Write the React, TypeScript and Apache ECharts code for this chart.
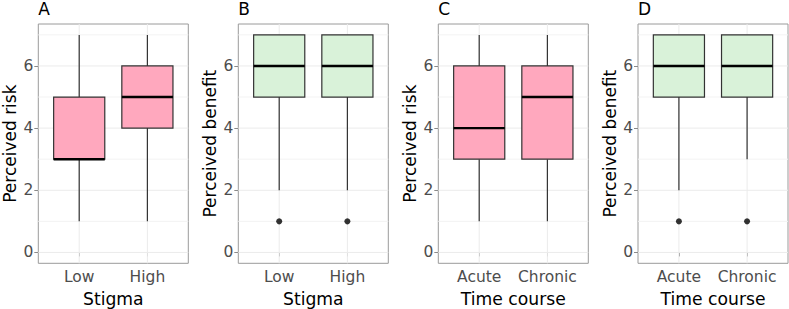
import React, { useEffect, useRef } from "react";
import * as echarts from "echarts";

const stigmaCategories = ["Low", "High"];
const timeCategories = ["Acute", "Chronic"];

// [min, Q1, median, Q3, max]
const riskByStigma = [
  [1, 3, 3, 5, 7],
  [1, 4, 5, 6, 7],
];
const benefitByStigma = [
  [2, 5, 6, 7, 7],
  [2, 5, 6, 7, 7],
];
const riskByTime = [
  [1, 3, 4, 6, 7],
  [1, 3, 5, 6, 7],
];
const benefitByTime = [
  [2, 5, 6, 7, 7],
  [3, 5, 6, 7, 7],
];
// outliers: [category position, value]
const benefitByStigmaOutliers = [
  [1, 1],
  [2, 1],
];
const benefitByTimeOutliers = [
  [1, 1],
  [2, 1],
];

const yTicks = [0, 2, 4, 6];
const yMinor = [1, 3, 5, 7];

const panelLetters = ["A", "B", "C", "D"];
const yTitles = ["Perceived risk", "Perceived benefit", "Perceived risk", "Perceived benefit"];
const xTitles = ["Stigma", "Stigma", "Time course", "Time course"];

const PINK = "#FFA8BE";
const GREEN = "#D9F2D9";
const FONT = "'DejaVu Sans', 'Liberation Sans', Arial, sans-serif";

const X_MIN = 0.4;
const X_MAX = 2.6;
const Y_MIN = -0.35;
const Y_MAX = 7.35;

export default function App() {
  const ref = useRef<HTMLDivElement>(null);

  useEffect(() => {
    document.body.style.margin = "0";
    if (!ref.current) return;
    const chart = echarts.init(ref.current, null, { renderer: "svg" });

    const panels = [
      { cats: stigmaCategories, stats: riskByStigma, out: [] as number[][], fill: PINK },
      { cats: stigmaCategories, stats: benefitByStigma, out: benefitByStigmaOutliers, fill: GREEN },
      { cats: timeCategories, stats: riskByTime, out: [] as number[][], fill: PINK },
      { cats: timeCategories, stats: benefitByTime, out: benefitByTimeOutliers, fill: GREEN },
    ];
    const lefts = [38.3, 238.3, 438.3, 638];
    const top = 24;
    const plotH = 239.3;
    const plotW = 150;

    const grid: any[] = [];
    const xAxis: any[] = [];
    const yAxis: any[] = [];
    const series: any[] = [];
    const graphic: any[] = [];

    panels.forEach((p, i) => {
      grid.push({
        left: lefts[i],
        top,
        width: plotW,
        height: plotH,
        show: true,
        containLabel: false,
        outerBoundsMode: "none",
        borderColor: "#9a9a9a",
        borderWidth: 1,
        backgroundColor: "transparent",
      });
      const positions = p.cats.map((_, k) => k + 1);
      xAxis.push({
        type: "value",
        gridIndex: i,
        min: X_MIN,
        max: X_MAX,
        axisLine: { show: false },
        splitLine: { show: false },
        axisTick: {
          show: true,
          customValues: positions,
          length: 4,
          lineStyle: { color: "#8a8a8a", width: 1 },
        },
        axisLabel: {
          show: true,
          customValues: positions,
          formatter: (v: number) => p.cats[Math.round(v) - 1] ?? "",
          margin: 6,
          fontSize: 15.5,
          color: "#4D4D4D",
          fontFamily: FONT,
        },
        name: xTitles[i],
        nameLocation: "middle",
        nameGap: 26,
        nameTextStyle: { fontSize: 17.2, color: "#000", fontFamily: FONT },
      });
      yAxis.push({
        type: "value",
        gridIndex: i,
        min: Y_MIN,
        max: Y_MAX,
        axisLine: { show: false },
        splitLine: { show: false },
        axisTick: {
          show: true,
          customValues: yTicks,
          length: 4,
          lineStyle: { color: "#8a8a8a", width: 1 },
        },
        axisLabel: {
          show: true,
          customValues: yTicks,
          margin: 5,
          fontSize: 15.5,
          color: "#4D4D4D",
          fontFamily: FONT,
        },
        name: yTitles[i],
        nameLocation: "middle",
        nameGap: 20.5,
        nameTextStyle: { fontSize: 17, lineHeight: 16, color: "#000", fontFamily: FONT },
      });

      // grid lines: [orientation (0 = horizontal, 1 = vertical), value, isMajor]
      const gridData: number[][] = [
        ...yMinor.map((v) => [0, v, 0]),
        ...yTicks.map((v) => [0, v, 1]),
        ...positions.map((v) => [1, v, 1]),
      ];
      series.push({
        type: "custom",
        xAxisIndex: i,
        yAxisIndex: i,
        z: 1,
        silent: true,
        data: gridData,
        renderItem: (_params: any, api: any) => {
          const orient = api.value(0);
          const v = api.value(1);
          const major = api.value(2) === 1;
          let a, b;
          if (orient === 0) {
            a = api.coord([X_MIN, v]);
            b = api.coord([X_MAX, v]);
          } else {
            a = api.coord([v, Y_MIN]);
            b = api.coord([v, Y_MAX]);
          }
          return {
            type: "line",
            shape: { x1: a[0], y1: a[1], x2: b[0], y2: b[1] },
            style: { stroke: major ? "#EBEBEB" : "#F3F3F3", lineWidth: 1 },
          };
        },
      });

      // boxes
      series.push({
        type: "custom",
        xAxisIndex: i,
        yAxisIndex: i,
        z: 2,
        data: p.stats.map((s, k) => [k + 1, ...s]),
        encode: { x: 0, y: [1, 2, 3, 4, 5] },
        renderItem: (_params: any, api: any) => {
          const x = api.value(0);
          const pMin = api.coord([x, api.value(1)]);
          const pQ1 = api.coord([x, api.value(2)]);
          const pMed = api.coord([x, api.value(3)]);
          const pQ3 = api.coord([x, api.value(4)]);
          const pMax = api.coord([x, api.value(5)]);
          const w = api.size([0.75, 0])[0];
          const cx = pMed[0];
          const line = { stroke: "#333333", lineWidth: 1.2 };
          return {
            type: "group",
            children: [
              { type: "line", shape: { x1: cx, y1: pMin[1], x2: cx, y2: pQ1[1] }, style: line },
              { type: "line", shape: { x1: cx, y1: pQ3[1], x2: cx, y2: pMax[1] }, style: line },
              {
                type: "rect",
                shape: { x: cx - w / 2, y: pQ3[1], width: w, height: pQ1[1] - pQ3[1] },
                style: { fill: p.fill, stroke: "#333333", lineWidth: 1.2 },
              },
              {
                type: "line",
                shape: { x1: cx - w / 2, y1: pMed[1], x2: cx + w / 2, y2: pMed[1] },
                style: { stroke: "#000", lineWidth: 2.4 },
              },
            ],
          };
        },
      });

      if (p.out.length) {
        series.push({
          type: "scatter",
          xAxisIndex: i,
          yAxisIndex: i,
          z: 3,
          symbolSize: 6,
          itemStyle: { color: "#000" },
          data: p.out,
        });
      }

      graphic.push({
        type: "text",
        left: lefts[i],
        top: 0,
        style: {
          text: panelLetters[i],
          fontSize: 17,
          fill: "#000",
          fontFamily: FONT,
        },
      });
    });

    chart.setOption({
      animation: false,
      backgroundColor: "#fff",
      grid,
      xAxis,
      yAxis,
      series,
      graphic,
    });

    return () => chart.dispose();
  }, []);

  return <div ref={ref} style={{ width: 789, height: 309 }} />;
}
